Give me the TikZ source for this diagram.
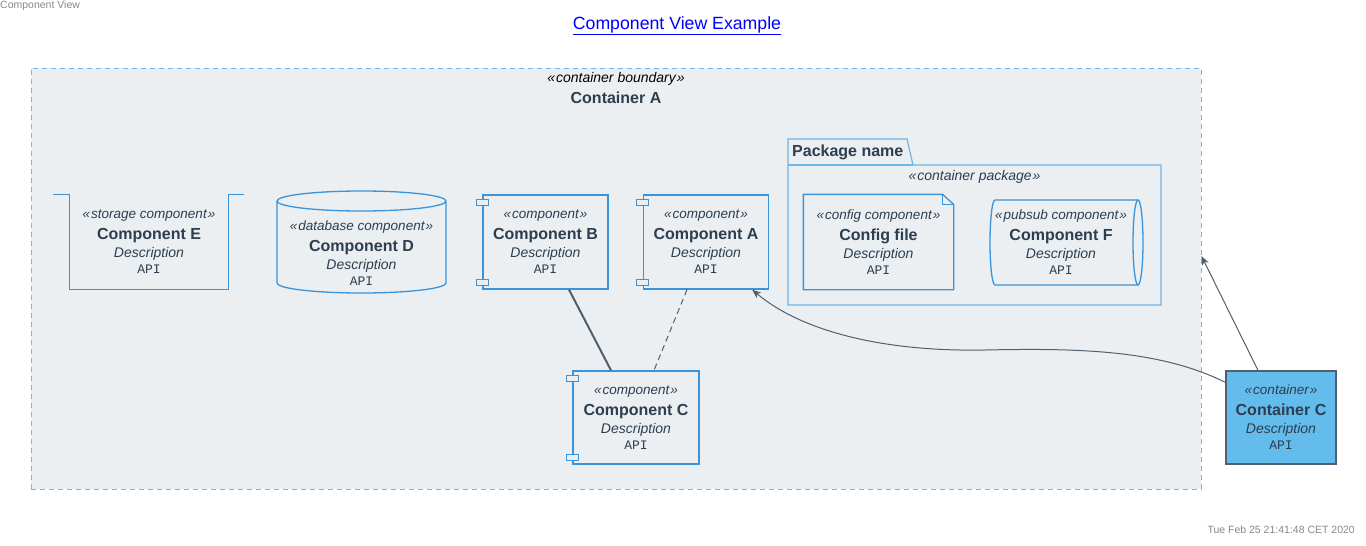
\documentclass[tikz,border=0pt]{standalone}
\usepackage{fontspec}
\setmainfont{Liberation Sans}
\setmonofont{Liberation Mono}
\usetikzlibrary{positioning,arrows.meta}

\definecolor{bndfill}{RGB}{235,239,241}
\definecolor{bndline}{RGB}{112,185,235}
\definecolor{compline}{RGB}{56,148,220}
\definecolor{pkgline}{RGB}{110,183,232}
\definecolor{txt}{RGB}{44,62,80}
\definecolor{relline}{RGB}{80,96,110}
\definecolor{contfill}{RGB}{99,188,236}
\definecolor{grey note}{RGB}{136,136,136}

\newcommand{\fsz}[1]{\fontsize{#1}{18}\selectfont}
\newcommand{\cbody}[2]{{\fsz{13.5}\itshape «\kern1pt#1\kern1pt»}\\[3pt]{\fsz{16}\bfseries #2}\\{\itshape Description}\\[-2pt]{\ttfamily\fsz{13}API}}

\begin{document}
\begin{tikzpicture}[x=1pt,y=-1pt,>={Stealth[length=9pt,width=7pt,inset=2.5pt]},text=txt,
    bnd/.style={draw=bndline,fill=bndfill,dash pattern=on 5pt off 4pt,line width=0.9pt,minimum width=1170pt,minimum height=421pt},
    comp/.style={draw=compline,line width=1.3pt,align=center,font=\fsz{14},minimum width=125pt,minimum height=94pt,inner sep=0pt},
    plain/.style={comp,draw=none},
    shapeline/.style={draw=compline,line width=1.3pt},
    port/.style={draw=compline,fill=bndfill,line width=1pt},
    pkg/.style={draw=pkgline,line width=1.2pt},
    rel/.style={draw=relline,line width=1pt}]
    \fill[white] (0,0) rectangle (1366,546);
    \useasboundingbox (0,0) rectangle (1366,546);

    \node[anchor=west,inner sep=0pt,text=grey note,font=\fsz{10.5}] (view) at (0,6) {Component View};
    \node[text=blue,font=\fsz{17.7}] (title) at (677,26) {\underline{Component View Example}};
    \node[anchor=east,inner sep=0pt,text=grey note,font=\fsz{10.5}] (date) at (1355,530) {Tue Feb 25 21:41:48 CET 2020};

    \node[bnd] (bnd) at (616,278.5) {};
    \node[text=black,font=\fsz{14}\itshape] (bndst) at (616,79) {«\kern1pt container boundary\kern1pt»};
    \node[font=\fsz{16}\bfseries] (bndname) at (616,98) {Container A};

    \node[plain,minimum width=158pt] (E) at (149,242) {\cbody{storage component}{Component E}};
    \node[plain,minimum width=169pt,minimum height=82pt] (D) at (361.5,253) {\cbody{database component}{Component D}};
    \node[comp] (B) at (545.5,242) {\cbody{component}{Component B}};
    \node[comp] (A) at (706,242) {\cbody{component}{Component A}};
    \node[comp,minimum width=126pt,minimum height=93pt] (C) at (636,417.5) {\cbody{component}{Component C}};
    \node[plain,minimum width=149pt] (cfg) at (878.5,242) {\cbody{config component}{Config file}};
    \node[plain,minimum width=140pt,minimum height=85pt] (F) at (1061,242.5) {\cbody{pubsub component}{Component F}};
    \node[comp,fill=contfill,draw=relline,minimum width=110pt,minimum height=93pt] (cc) at (1281,417.5) {\cbody{container}{Container C}};

    \draw[shapeline] ([xshift=-16pt]E.north west) -- (E.north west) -- (E.south west) -- (E.south east) -- (E.north east) -- ([xshift=15pt]E.north east);
    \draw[shapeline] (277,201) -- (277,283) arc[start angle=180,end angle=360,x radius=84.5pt,y radius=10pt] -- (446,201) arc[start angle=0,end angle=360,x radius=84.5pt,y radius=10pt];
    \draw[shapeline] (cfg.north west) -- ([xshift=-11pt]cfg.north east) -- ([yshift=-10pt]cfg.north east) -- (cfg.south east) -- (cfg.south west) -- cycle;
    \draw[shapeline] ([xshift=-11pt]cfg.north east) |- ([yshift=-10pt]cfg.north east);
    \draw[shapeline] (1138,200) -- (995,200) arc[start angle=90,end angle=270,x radius=5pt,y radius=42.5pt] -- (1138,285);
    \draw[shapeline] (1138,242.5) ellipse[x radius=5pt,y radius=42.5pt];
    \foreach \n in {A,B,C}{
        \draw[port] ([shift={(-6,5)}]\n.north west) rectangle ++(12,6);
        \draw[port] ([shift={(-6,-10)}]\n.south west) rectangle ++(12,6);
    }

    \draw[pkg] (788,139) -- (907,139) -- (913,165) -- (1161,165) -- (1161,305) -- (788,305) -- cycle;
    \draw[pkg] (788,165) -- (913,165);
    \node[anchor=west,inner sep=0pt,font=\fsz{16}\bfseries] (pkgname) at (792,152) {Package name};
    \node[font=\fsz{14}\itshape] (pkgst) at (974.5,177) {«\kern1pt container package\kern1pt»};

    \path[rel]
        ([xshift=23.5pt]B.south) edge[line width=2pt] ([xshift=-25pt]C.north)
        ([xshift=-19pt]A.south) edge[dash pattern=on 6pt off 4pt] ([xshift=18pt]C.north)
    ;
    \draw[rel,->] ([yshift=-12pt]cc.north west) .. controls (1160,350) and (1080,348) .. (985,350) .. controls (880,352) and (800,330) .. ([xshift=-17pt]A.south east);
    \draw[rel,->] ([xshift=-23pt]cc.north) -- ([yshift=22.5pt]bnd.east);
\end{tikzpicture}
\end{document}
